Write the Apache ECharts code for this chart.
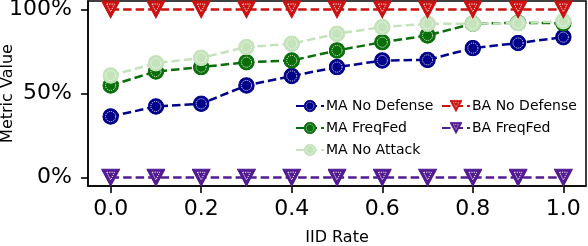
<!DOCTYPE html>
<html><head><meta charset="utf-8">
<script src="https://cdn.jsdelivr.net/npm/echarts@6/dist/echarts.min.js"></script>
<style>html,body{margin:0;padding:0;background:#fff}#c{width:588px;height:246px}</style>
</head><body><div id="c"></div>
<script>
const iidRates = [0.0, 0.1, 0.2, 0.3, 0.4, 0.5, 0.6, 0.7, 0.8, 0.9, 1.0];
const maNoDefense = [36.3, 42.3, 43.9, 54.8, 60.4, 65.7, 69.6, 70.0, 77.0, 80.0, 83.5];
const maFreqFed   = [54.8, 63.1, 65.7, 68.6, 69.6, 75.6, 80.5, 84.5, 91.5, 92.0, 91.8];
const maNoAttack  = [60.7, 68.0, 71.2, 77.6, 79.6, 85.5, 89.5, 91.5, 91.5, 91.8, 93.0];
const baNoDefense = [100, 100, 100, 100, 100, 100, 100, 100, 100, 100, 100];
const baFreqFed   = [0, 0, 0, 0, 0, 0, 0, 0, 0, 0, 0];
const xTicks = [0.0, 0.2, 0.4, 0.6, 0.8, 1.0];
const yTicks = [0, 50, 100];

function circleSym(c) {
  const s = `<svg xmlns="http://www.w3.org/2000/svg" width="32" height="32" viewBox="0 0 32 32"><circle cx="16" cy="16" r="14.5" fill="${c}" stroke="${c}" stroke-width="2"/><circle cx="16" cy="16" r="9.5" fill="none" stroke="#fff" stroke-width="1.6" stroke-dasharray="2.2 1.8"/></svg>`;
  return 'image://data:image/svg+xml;charset=utf-8,' + encodeURIComponent(s);
}
function triSym(c) {
  const s = `<svg xmlns="http://www.w3.org/2000/svg" width="32" height="32" viewBox="0 0 32 32"><polygon points="1,2 31,2 16,30" fill="${c}" stroke="${c}" stroke-width="2" stroke-linejoin="miter"/><polygon points="9.5,7 22.5,7 16,20" fill="none" stroke="#fff" stroke-width="1.5" stroke-dasharray="2.2 1.8"/></svg>`;
  return 'image://data:image/svg+xml;charset=utf-8,' + encodeURIComponent(s);
}
const C = {nd:'#00008b', ff:'#0a6e0a', na:'#c4e3bb', bnd:'#cc1111', bff:'#521b92'};
function mk(name, vals, color, sym) {
  return {
    name, type:'line', data: iidRates.map((x,i)=>[x, vals[i]]),
    symbol: sym === 'c' ? circleSym(color) : triSym(color),
    symbolSize: sym === 'c' ? 17 : 19,
    showAllSymbol: true,
    lineStyle: {color, width: 2.5, type: [8.5, 4]},
    itemStyle: {color},
    emphasis: {disabled: true},
    animation: false
  };
}
const chart = echarts.init(document.getElementById('c'), null, {renderer:'canvas'});
const FONT = 'DejaVu Sans';
chart.setOption({
  animation: false,
  textStyle: {fontFamily: FONT},
  grid: {left: 88, right: 2, top: 1, bottom: 60, outerBoundsMode: 'none', containLabel: false,
         show: true, borderColor: '#000', borderWidth: 1.5, backgroundColor: 'transparent'},
  xAxis: {
    type: 'value', min: -0.05, max: 1.05,
    name: 'IID Rate', nameLocation: 'middle', nameGap: 44, nameMoveOverlap: false,
    nameTextStyle: {fontSize: 16, color: '#000', fontFamily: FONT},
    axisLine: {show: true, onZero: false, lineStyle: {color: '#000', width: 1.5}},
    axisTick: {show: true, length: 7, inside: false, lineStyle: {color:'#000', width: 1.6}, customValues: xTicks},
    axisLabel: {fontSize: 22, color: '#000', margin: 12, fontFamily: FONT, customValues: xTicks, formatter: v => v.toFixed(1)},
    splitLine: {show: false}
  },
  yAxis: {
    type: 'value', min: -5, max: 105,
    name: 'Metric Value', nameLocation: 'middle', nameGap: 72, nameMoveOverlap: false,
    nameTextStyle: {fontSize: 16, color: '#000', fontFamily: FONT},
    axisLine: {show: true, onZero: false, lineStyle: {color: '#000', width: 1.5}},
    axisTick: {show: true, length: 7, inside: false, lineStyle: {color:'#000', width: 1.6}, customValues: yTicks},
    axisLabel: {fontSize: 22, color: '#000', margin: 16, fontFamily: FONT, customValues: yTicks, formatter: v => v + '%'},
    splitLine: {show: false}
  },
  legend: [
    {data: ['MA No Defense', 'MA FreqFed', 'MA No Attack'], orient: 'vertical', left: 290, top: 94,
     itemWidth: 28, itemHeight: 16, itemGap: 8, textStyle: {fontSize: 14, color: '#000', fontFamily: FONT, padding: [0,0,0,-3]}, selectedMode: false},
    {data: ['BA No Defense', 'BA FreqFed'], orient: 'vertical', left: 436, top: 94,
     itemWidth: 28, itemHeight: 16, itemGap: 8, textStyle: {fontSize: 14, color: '#000', fontFamily: FONT, padding: [0,0,0,-3]}, selectedMode: false}
  ],
  series: [
    mk('MA No Defense', maNoDefense, C.nd, 'c'),
    mk('MA FreqFed', maFreqFed, C.ff, 'c'),
    mk('MA No Attack', maNoAttack, C.na, 'c'),
    mk('BA No Defense', baNoDefense, C.bnd, 't'),
    mk('BA FreqFed', baFreqFed, C.bff, 't')
  ]
});
</script></body></html>
